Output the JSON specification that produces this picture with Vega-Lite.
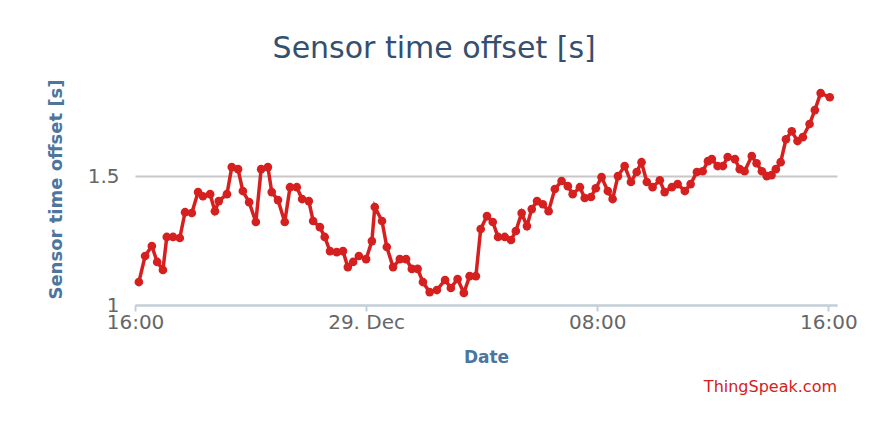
{
  "$schema": "https://vega.github.io/schema/vega-lite/v6.json",
  "background": "white",
  "padding": {"left": 47, "top": 34, "right": 10, "bottom": 10},
  "config": {"font": "DejaVu Sans", "view": {"stroke": null}},
  "title": {"text": "Sensor time offset [s]", "font": "DejaVu Sans", "fontSize": 30, "fontWeight": "normal", "color": "#34506e", "anchor": "middle", "offset": 9, "dx": -18},
  "vconcat": [
    {
      "width": 702,
      "height": 232,
      "title": {"text": "ThingSpeak.com", "orient": "bottom", "anchor": "end", "frame": "group", "font": "DejaVu Sans", "fontSize": 16, "fontWeight": "normal", "color": "#d62020", "offset": 14},
      "data": {"values": [
        {"time": "2017-12-28 16:08", "value": 1.089},
        {"time": "2017-12-28 16:21", "value": 1.190},
        {"time": "2017-12-28 16:35", "value": 1.229},
        {"time": "2017-12-28 16:46", "value": 1.167},
        {"time": "2017-12-28 16:58", "value": 1.136},
        {"time": "2017-12-28 17:06", "value": 1.264},
        {"time": "2017-12-28 17:19", "value": 1.264},
        {"time": "2017-12-28 17:33", "value": 1.260},
        {"time": "2017-12-28 17:44", "value": 1.360},
        {"time": "2017-12-28 17:58", "value": 1.357},
        {"time": "2017-12-28 18:11", "value": 1.438},
        {"time": "2017-12-28 18:21", "value": 1.422},
        {"time": "2017-12-28 18:36", "value": 1.430},
        {"time": "2017-12-28 18:46", "value": 1.364},
        {"time": "2017-12-28 18:54", "value": 1.403},
        {"time": "2017-12-28 19:11", "value": 1.430},
        {"time": "2017-12-28 19:21", "value": 1.535},
        {"time": "2017-12-28 19:34", "value": 1.527},
        {"time": "2017-12-28 19:44", "value": 1.442},
        {"time": "2017-12-28 19:57", "value": 1.399},
        {"time": "2017-12-28 20:11", "value": 1.322},
        {"time": "2017-12-28 20:22", "value": 1.527},
        {"time": "2017-12-28 20:36", "value": 1.535},
        {"time": "2017-12-28 20:44", "value": 1.438},
        {"time": "2017-12-28 20:57", "value": 1.407},
        {"time": "2017-12-28 21:11", "value": 1.322},
        {"time": "2017-12-28 21:22", "value": 1.457},
        {"time": "2017-12-28 21:36", "value": 1.457},
        {"time": "2017-12-28 21:47", "value": 1.411},
        {"time": "2017-12-28 22:01", "value": 1.403},
        {"time": "2017-12-28 22:10", "value": 1.326},
        {"time": "2017-12-28 22:24", "value": 1.302},
        {"time": "2017-12-28 22:34", "value": 1.264},
        {"time": "2017-12-28 22:45", "value": 1.209},
        {"time": "2017-12-28 22:59", "value": 1.205},
        {"time": "2017-12-28 23:12", "value": 1.209},
        {"time": "2017-12-28 23:22", "value": 1.147},
        {"time": "2017-12-28 23:33", "value": 1.167},
        {"time": "2017-12-28 23:45", "value": 1.190},
        {"time": "2017-12-29 00:00", "value": 1.178},
        {"time": "2017-12-29 00:12", "value": 1.248},
        {"time": "2017-12-29 00:18", "value": 1.380},
        {"time": "2017-12-29 00:33", "value": 1.326},
        {"time": "2017-12-29 00:43", "value": 1.225},
        {"time": "2017-12-29 00:56", "value": 1.147},
        {"time": "2017-12-29 01:10", "value": 1.178},
        {"time": "2017-12-29 01:23", "value": 1.178},
        {"time": "2017-12-29 01:35", "value": 1.140},
        {"time": "2017-12-29 01:47", "value": 1.140},
        {"time": "2017-12-29 01:58", "value": 1.089},
        {"time": "2017-12-29 02:12", "value": 1.050},
        {"time": "2017-12-29 02:27", "value": 1.058},
        {"time": "2017-12-29 02:44", "value": 1.097},
        {"time": "2017-12-29 02:56", "value": 1.066},
        {"time": "2017-12-29 03:10", "value": 1.101},
        {"time": "2017-12-29 03:23", "value": 1.047},
        {"time": "2017-12-29 03:35", "value": 1.112},
        {"time": "2017-12-29 03:48", "value": 1.112},
        {"time": "2017-12-29 03:58", "value": 1.295},
        {"time": "2017-12-29 04:11", "value": 1.345},
        {"time": "2017-12-29 04:23", "value": 1.322},
        {"time": "2017-12-29 04:34", "value": 1.264},
        {"time": "2017-12-29 04:48", "value": 1.264},
        {"time": "2017-12-29 05:01", "value": 1.252},
        {"time": "2017-12-29 05:11", "value": 1.287},
        {"time": "2017-12-29 05:23", "value": 1.357},
        {"time": "2017-12-29 05:34", "value": 1.306},
        {"time": "2017-12-29 05:44", "value": 1.372},
        {"time": "2017-12-29 05:55", "value": 1.403},
        {"time": "2017-12-29 06:07", "value": 1.391},
        {"time": "2017-12-29 06:19", "value": 1.364},
        {"time": "2017-12-29 06:32", "value": 1.450},
        {"time": "2017-12-29 06:46", "value": 1.481},
        {"time": "2017-12-29 06:59", "value": 1.461},
        {"time": "2017-12-29 07:09", "value": 1.430},
        {"time": "2017-12-29 07:24", "value": 1.457},
        {"time": "2017-12-29 07:34", "value": 1.415},
        {"time": "2017-12-29 07:47", "value": 1.419},
        {"time": "2017-12-29 07:57", "value": 1.453},
        {"time": "2017-12-29 08:09", "value": 1.496},
        {"time": "2017-12-29 08:22", "value": 1.442},
        {"time": "2017-12-29 08:32", "value": 1.411},
        {"time": "2017-12-29 08:43", "value": 1.500},
        {"time": "2017-12-29 08:57", "value": 1.539},
        {"time": "2017-12-29 09:10", "value": 1.477},
        {"time": "2017-12-29 09:22", "value": 1.516},
        {"time": "2017-12-29 09:32", "value": 1.554},
        {"time": "2017-12-29 09:43", "value": 1.477},
        {"time": "2017-12-29 09:55", "value": 1.457},
        {"time": "2017-12-29 10:10", "value": 1.484},
        {"time": "2017-12-29 10:20", "value": 1.438},
        {"time": "2017-12-29 10:35", "value": 1.457},
        {"time": "2017-12-29 10:47", "value": 1.469},
        {"time": "2017-12-29 11:02", "value": 1.442},
        {"time": "2017-12-29 11:14", "value": 1.469},
        {"time": "2017-12-29 11:27", "value": 1.516},
        {"time": "2017-12-29 11:39", "value": 1.519},
        {"time": "2017-12-29 11:50", "value": 1.558},
        {"time": "2017-12-29 11:58", "value": 1.566},
        {"time": "2017-12-29 12:10", "value": 1.539},
        {"time": "2017-12-29 12:21", "value": 1.539},
        {"time": "2017-12-29 12:31", "value": 1.574},
        {"time": "2017-12-29 12:46", "value": 1.566},
        {"time": "2017-12-29 12:56", "value": 1.527},
        {"time": "2017-12-29 13:06", "value": 1.519},
        {"time": "2017-12-29 13:21", "value": 1.578},
        {"time": "2017-12-29 13:31", "value": 1.550},
        {"time": "2017-12-29 13:42", "value": 1.519},
        {"time": "2017-12-29 13:52", "value": 1.500},
        {"time": "2017-12-29 14:02", "value": 1.504},
        {"time": "2017-12-29 14:11", "value": 1.527},
        {"time": "2017-12-29 14:21", "value": 1.554},
        {"time": "2017-12-29 14:32", "value": 1.643},
        {"time": "2017-12-29 14:44", "value": 1.674},
        {"time": "2017-12-29 14:56", "value": 1.636},
        {"time": "2017-12-29 15:07", "value": 1.651},
        {"time": "2017-12-29 15:21", "value": 1.702},
        {"time": "2017-12-29 15:32", "value": 1.756},
        {"time": "2017-12-29 15:44", "value": 1.822},
        {"time": "2017-12-29 16:03", "value": 1.806}
      ]},
      "encoding": {
        "x": {
          "field": "time", "type": "temporal",
          "scale": {"domain": [{"year": 2017, "month": 12, "date": 28, "hours": 16}, {"year": 2017, "month": 12, "date": 29, "hours": 16, "minutes": 18}]},
          "axis": {
            "title": "Date",
            "values": [
              {"year": 2017, "month": 12, "date": 28, "hours": 16},
              {"year": 2017, "month": 12, "date": 29, "hours": 0},
              {"year": 2017, "month": 12, "date": 29, "hours": 8},
              {"year": 2017, "month": 12, "date": 29, "hours": 16}
            ],
            "labelExpr": "hours(datum.value) == 0 ? timeFormat(datum.value, '%d. %b') : timeFormat(datum.value, '%H:%M')",
            "grid": false,
            "domainColor": "#c0d0e0", "domainWidth": 2,
            "tickColor": "#c0d0e0", "tickWidth": 2, "tickSize": 6,
            "labelColor": "#666666", "labelFont": "DejaVu Sans", "labelFontSize": 20, "labelPadding": 1,
            "labelOverlap": false, "labelFlush": false,
            "titleColor": "#4d759e", "titleFont": "DejaVu Sans", "titleFontSize": 17, "titleFontWeight": "bold", "titlePadding": 17
          }
        },
        "y": {
          "field": "value", "type": "quantitative",
          "scale": {"domain": [1, 1.9], "zero": false, "nice": false},
          "axis": {
            "title": "Sensor time offset [s]",
            "values": [1, 1.5],
            "format": "~g",
            "grid": true, "gridColor": "#c8c8c8", "gridWidth": 2,
            "domain": false, "ticks": false,
            "labelColor": "#666666", "labelFont": "DejaVu Sans", "labelFontSize": 20, "labelPadding": 16,
            "titleColor": "#4d759e", "titleFont": "DejaVu Sans", "titleFontSize": 18, "titleFontWeight": "bold", "titlePadding": 22
          }
        }
      },
      "layer": [
        {"mark": {"type": "line", "color": "#d62020", "strokeWidth": 3.5}},
        {"mark": {"type": "point", "filled": true, "opacity": 1, "color": "#d62020", "size": 75}}
      ]
    }
  ]
}
